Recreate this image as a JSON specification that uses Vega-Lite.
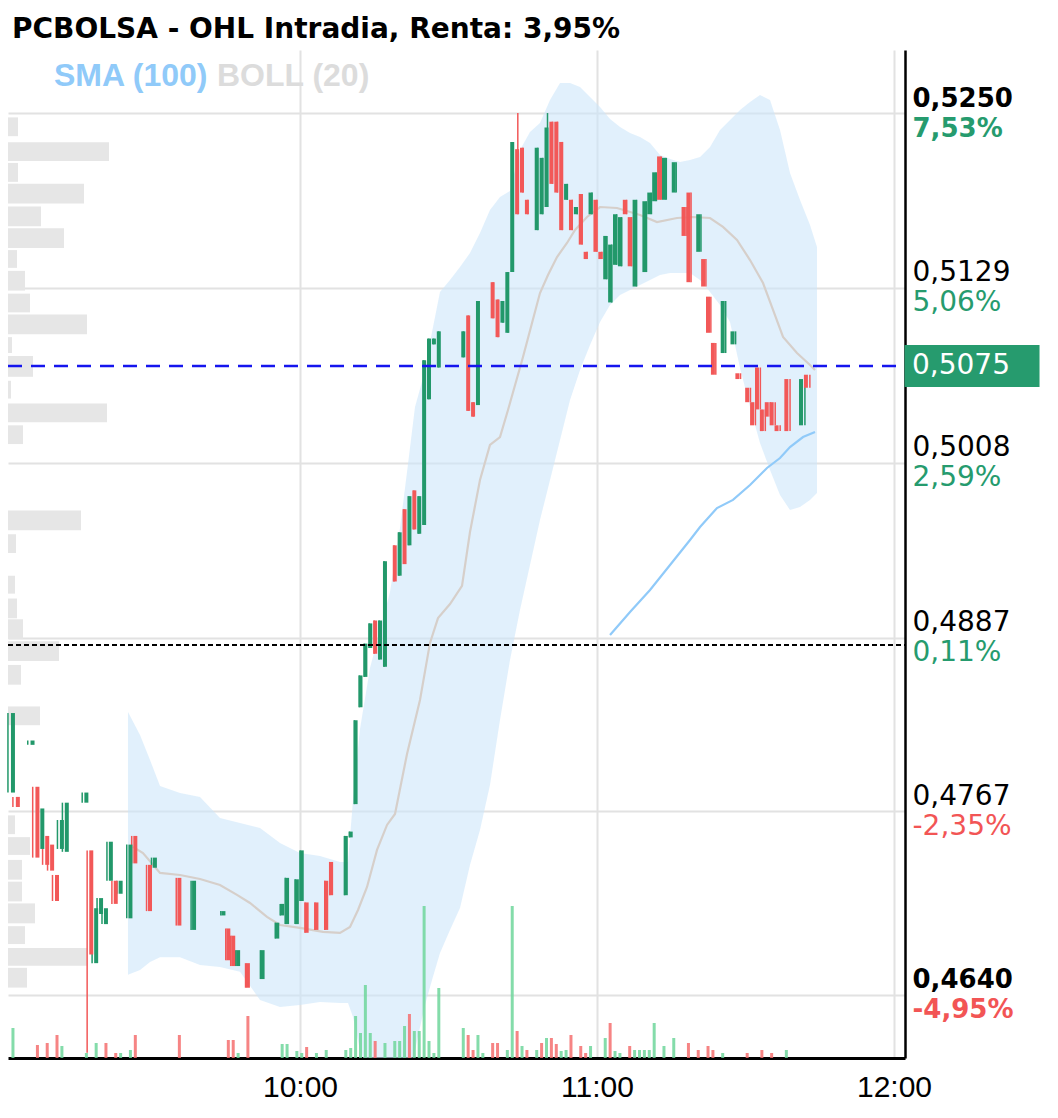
{
"$schema": "https://vega.github.io/schema/vega-lite/v6.json",
"width": 897, "height": 1008,
"autosize": {"type": "none"},
"padding": {"left": 8, "top": 50, "right": 153, "bottom": 60},
"background": "white",
"config": {"view": {"stroke": null}, "locale": {"number": {"decimal": ",", "thousands": ".", "grouping": [3], "currency": ["", " €"]}}},
"title": {"text": "PCBOLSA - OHL Intradia, Renta: 3,95%", "anchor": "start", "frame": "group", "offset": 12, "dx": 4, "dy": 28, "baseline": "alphabetic", "font": "DejaVu Sans", "fontSize": 28, "fontWeight": "bold", "color": "#000000"},
"datasets": {
"candles": [
{"t":1,"o":0.4780,"h":0.4835,"l":0.4780,"c":0.4835},
{"t":2,"o":0.4777,"h":0.4777,"l":0.4770,"c":0.4770},
{"t":5,"o":0.4813,"h":0.4816,"l":0.4813,"c":0.4816},
{"t":6,"o":0.4784,"h":0.4784,"l":0.4735,"c":0.4735},
{"t":7,"o":0.4741,"h":0.4769,"l":0.4741,"c":0.4769},
{"t":8,"o":0.4750,"h":0.4750,"l":0.4730,"c":0.4730},
{"t":9,"o":0.4744,"h":0.4744,"l":0.4726,"c":0.4726},
{"t":10,"o":0.4723,"h":0.4723,"l":0.4705,"c":0.4705},
{"t":11,"o":0.4741,"h":0.4761,"l":0.4741,"c":0.4761},
{"t":12,"o":0.4739,"h":0.4773,"l":0.4739,"c":0.4773},
{"t":16,"o":0.4773,"h":0.4780,"l":0.4773,"c":0.4780},
{"t":17,"o":0.4740,"h":0.4740,"l":0.4600,"c":0.4668},
{"t":18,"o":0.4662,"h":0.4700,"l":0.4662,"c":0.4700},
{"t":19,"o":0.4696,"h":0.4707,"l":0.4696,"c":0.4707},
{"t":20,"o":0.4689,"h":0.4700,"l":0.4689,"c":0.4700},
{"t":21,"o":0.4719,"h":0.4746,"l":0.4719,"c":0.4746},
{"t":22,"o":0.4719,"h":0.4719,"l":0.4703,"c":0.4703},
{"t":23,"o":0.4710,"h":0.4719,"l":0.4710,"c":0.4719},
{"t":25,"o":0.4693,"h":0.4744,"l":0.4693,"c":0.4744},
{"t":26,"o":0.4750,"h":0.4750,"l":0.4731,"c":0.4731},
{"t":29,"o":0.4730,"h":0.4730,"l":0.4698,"c":0.4698},
{"t":30,"o":0.4728,"h":0.4735,"l":0.4728,"c":0.4735},
{"t":35,"o":0.4721,"h":0.4721,"l":0.4688,"c":0.4688},
{"t":38,"o":0.4685,"h":0.4719,"l":0.4685,"c":0.4719},
{"t":44,"o":0.4695,"h":0.4698,"l":0.4695,"c":0.4698},
{"t":45,"o":0.4686,"h":0.4686,"l":0.4664,"c":0.4664},
{"t":46,"o":0.4681,"h":0.4681,"l":0.4660,"c":0.4660},
{"t":47,"o":0.4660,"h":0.4671,"l":0.4660,"c":0.4671},
{"t":49,"o":0.4662,"h":0.4662,"l":0.4645,"c":0.4645},
{"t":52,"o":0.4651,"h":0.4671,"l":0.4651,"c":0.4671},
{"t":55,"o":0.4679,"h":0.4690,"l":0.4679,"c":0.4690},
{"t":56,"o":0.4695,"h":0.4703,"l":0.4695,"c":0.4703},
{"t":57,"o":0.4689,"h":0.4721,"l":0.4689,"c":0.4721},
{"t":59,"o":0.4689,"h":0.4720,"l":0.4689,"c":0.4720},
{"t":60,"o":0.4705,"h":0.4740,"l":0.4705,"c":0.4740},
{"t":61,"o":0.4704,"h":0.4704,"l":0.4683,"c":0.4683},
{"t":63,"o":0.4704,"h":0.4704,"l":0.4685,"c":0.4685},
{"t":65,"o":0.4719,"h":0.4719,"l":0.4685,"c":0.4685},
{"t":66,"o":0.4732,"h":0.4732,"l":0.4709,"c":0.4709},
{"t":69,"o":0.4709,"h":0.4750,"l":0.4709,"c":0.4750},
{"t":70,"o":0.4749,"h":0.4753,"l":0.4749,"c":0.4753},
{"t":71,"o":0.4772,"h":0.4830,"l":0.4772,"c":0.4830},
{"t":72,"o":0.4839,"h":0.4861,"l":0.4839,"c":0.4861},
{"t":73,"o":0.4860,"h":0.4883,"l":0.4860,"c":0.4883},
{"t":74,"o":0.4880,"h":0.4897,"l":0.4880,"c":0.4897},
{"t":75,"o":0.4899,"h":0.4899,"l":0.4876,"c":0.4876},
{"t":76,"o":0.4872,"h":0.4899,"l":0.4872,"c":0.4899},
{"t":77,"o":0.4867,"h":0.4940,"l":0.4867,"c":0.4940},
{"t":79,"o":0.4951,"h":0.4951,"l":0.4926,"c":0.4926},
{"t":80,"o":0.4930,"h":0.4960,"l":0.4930,"c":0.4960},
{"t":81,"o":0.4976,"h":0.4976,"l":0.4938,"c":0.4938},
{"t":82,"o":0.4951,"h":0.4985,"l":0.4951,"c":0.4985},
{"t":83,"o":0.4989,"h":0.4989,"l":0.4962,"c":0.4962},
{"t":84,"o":0.4959,"h":0.4985,"l":0.4959,"c":0.4985},
{"t":85,"o":0.4965,"h":0.5079,"l":0.4965,"c":0.5079},
{"t":86,"o":0.5052,"h":0.5094,"l":0.5052,"c":0.5094},
{"t":87,"o":0.5090,"h":0.5094,"l":0.5090,"c":0.5094},
{"t":88,"o":0.5074,"h":0.5099,"l":0.5074,"c":0.5099},
{"t":93,"o":0.5081,"h":0.5099,"l":0.5081,"c":0.5099},
{"t":94,"o":0.5110,"h":0.5110,"l":0.5044,"c":0.5044},
{"t":95,"o":0.5050,"h":0.5050,"l":0.5040,"c":0.5040},
{"t":96,"o":0.5048,"h":0.5120,"l":0.5048,"c":0.5120},
{"t":99,"o":0.5133,"h":0.5133,"l":0.5108,"c":0.5108},
{"t":100,"o":0.5121,"h":0.5121,"l":0.5095,"c":0.5095},
{"t":101,"o":0.5105,"h":0.5120,"l":0.5105,"c":0.5120},
{"t":102,"o":0.5098,"h":0.5140,"l":0.5098,"c":0.5140},
{"t":103,"o":0.5140,"h":0.5230,"l":0.5140,"c":0.5230},
{"t":104,"o":0.5225,"h":0.5250,"l":0.5180,"c":0.5180},
{"t":105,"o":0.5226,"h":0.5226,"l":0.5195,"c":0.5195},
{"t":106,"o":0.5190,"h":0.5190,"l":0.5180,"c":0.5180},
{"t":108,"o":0.5169,"h":0.5226,"l":0.5169,"c":0.5226},
{"t":109,"o":0.5180,"h":0.5219,"l":0.5180,"c":0.5219},
{"t":110,"o":0.5185,"h":0.5250,"l":0.5185,"c":0.5240},
{"t":111,"o":0.5244,"h":0.5244,"l":0.5201,"c":0.5201},
{"t":112,"o":0.5244,"h":0.5244,"l":0.5195,"c":0.5195},
{"t":113,"o":0.5230,"h":0.5230,"l":0.5169,"c":0.5169},
{"t":114,"o":0.5190,"h":0.5201,"l":0.5190,"c":0.5201},
{"t":115,"o":0.5190,"h":0.5190,"l":0.5169,"c":0.5169},
{"t":116,"o":0.5180,"h":0.5185,"l":0.5180,"c":0.5185},
{"t":117,"o":0.5194,"h":0.5194,"l":0.5159,"c":0.5159},
{"t":118,"o":0.5154,"h":0.5154,"l":0.5149,"c":0.5149},
{"t":119,"o":0.5180,"h":0.5195,"l":0.5180,"c":0.5195},
{"t":120,"o":0.5190,"h":0.5190,"l":0.5154,"c":0.5154},
{"t":121,"o":0.5154,"h":0.5154,"l":0.5149,"c":0.5149},
{"t":122,"o":0.5135,"h":0.5165,"l":0.5135,"c":0.5165},
{"t":123,"o":0.5119,"h":0.5159,"l":0.5119,"c":0.5159},
{"t":124,"o":0.5145,"h":0.5180,"l":0.5145,"c":0.5180},
{"t":125,"o":0.5144,"h":0.5178,"l":0.5144,"c":0.5178},
{"t":126,"o":0.5190,"h":0.5190,"l":0.5180,"c":0.5180},
{"t":127,"o":0.5178,"h":0.5178,"l":0.5144,"c":0.5144},
{"t":128,"o":0.5130,"h":0.5190,"l":0.5130,"c":0.5190},
{"t":130,"o":0.5140,"h":0.5189,"l":0.5140,"c":0.5189},
{"t":131,"o":0.5180,"h":0.5195,"l":0.5180,"c":0.5195},
{"t":132,"o":0.5189,"h":0.5209,"l":0.5189,"c":0.5209},
{"t":133,"o":0.5220,"h":0.5220,"l":0.5190,"c":0.5190},
{"t":134,"o":0.5190,"h":0.5219,"l":0.5190,"c":0.5219},
{"t":136,"o":0.5195,"h":0.5216,"l":0.5195,"c":0.5216},
{"t":138,"o":0.5185,"h":0.5185,"l":0.5165,"c":0.5165},
{"t":139,"o":0.5195,"h":0.5195,"l":0.5133,"c":0.5133},
{"t":141,"o":0.5154,"h":0.5180,"l":0.5154,"c":0.5180},
{"t":142,"o":0.5149,"h":0.5149,"l":0.5130,"c":0.5130},
{"t":143,"o":0.5123,"h":0.5123,"l":0.5098,"c":0.5098},
{"t":144,"o":0.5091,"h":0.5091,"l":0.5069,"c":0.5069},
{"t":146,"o":0.5084,"h":0.5120,"l":0.5084,"c":0.5120},
{"t":148,"o":0.5090,"h":0.5099,"l":0.5090,"c":0.5099},
{"t":149,"o":0.5070,"h":0.5070,"l":0.5066,"c":0.5066},
{"t":151,"o":0.5060,"h":0.5060,"l":0.5050,"c":0.5050},
{"t":152,"o":0.5050,"h":0.5050,"l":0.5034,"c":0.5034},
{"t":153,"o":0.5074,"h":0.5074,"l":0.5045,"c":0.5045},
{"t":154,"o":0.5045,"h":0.5045,"l":0.5030,"c":0.5030},
{"t":155,"o":0.5050,"h":0.5050,"l":0.5040,"c":0.5040},
{"t":156,"o":0.5050,"h":0.5050,"l":0.5034,"c":0.5034},
{"t":157,"o":0.5034,"h":0.5034,"l":0.5030,"c":0.5030},
{"t":159,"o":0.5066,"h":0.5066,"l":0.5030,"c":0.5030},
{"t":162,"o":0.5034,"h":0.5066,"l":0.5034,"c":0.5066},
{"t":163,"o":0.5069,"h":0.5069,"l":0.5060,"c":0.5060}
],
"volume": [
{"t":1,"v":30,"d":"u"},{"t":6,"v":13,"d":"d"},{"t":8,"v":15,"d":"d"},{"t":10,"v":23,"d":"d"},{"t":11,"v":12,"d":"u"},{"t":16,"v":5,"d":"u"},{"t":18,"v":15,"d":"u"},{"t":20,"v":15,"d":"d"},{"t":22,"v":5,"d":"d"},{"t":23,"v":5,"d":"u"},{"t":25,"v":8,"d":"u"},{"t":26,"v":23,"d":"d"},{"t":35,"v":23,"d":"d"},
{"t":45,"v":18,"d":"d"},{"t":46,"v":18,"d":"d"},{"t":47,"v":5,"d":"u"},{"t":49,"v":42,"d":"d"},{"t":56,"v":14,"d":"u"},{"t":57,"v":14,"d":"u"},{"t":59,"v":7,"d":"u"},{"t":60,"v":5,"d":"u"},{"t":61,"v":11,"d":"d"},{"t":63,"v":5,"d":"u"},{"t":65,"v":8,"d":"u"},{"t":69,"v":8,"d":"u"},{"t":70,"v":10,"d":"u"},{"t":71,"v":42,"d":"u"},{"t":72,"v":25,"d":"u"},{"t":73,"v":73,"d":"u"},{"t":74,"v":25,"d":"u"},{"t":75,"v":17,"d":"d"},{"t":77,"v":15,"d":"u"},{"t":79,"v":17,"d":"u"},{"t":80,"v":17,"d":"u"},{"t":81,"v":32,"d":"u"},{"t":82,"v":44,"d":"d"},{"t":83,"v":27,"d":"u"},{"t":84,"v":27,"d":"u"},{"t":85,"v":152,"d":"u"},{"t":86,"v":17,"d":"u"},{"t":87,"v":5,"d":"u"},{"t":88,"v":70,"d":"u"},{"t":93,"v":30,"d":"u"},{"t":94,"v":23,"d":"d"},{"t":95,"v":8,"d":"d"},{"t":96,"v":23,"d":"u"},{"t":97,"v":5,"d":"u"},{"t":99,"v":15,"d":"d"},{"t":100,"v":15,"d":"d"},{"t":102,"v":8,"d":"u"},{"t":103,"v":152,"d":"u"},{"t":104,"v":27,"d":"d"},{"t":105,"v":12,"d":"u"},{"t":106,"v":8,"d":"d"},{"t":108,"v":8,"d":"u"},{"t":109,"v":15,"d":"d"},{"t":110,"v":20,"d":"u"},{"t":111,"v":20,"d":"d"},{"t":112,"v":14,"d":"d"},{"t":113,"v":7,"d":"u"},{"t":114,"v":8,"d":"u"},{"t":115,"v":23,"d":"d"},{"t":117,"v":12,"d":"d"},{"t":118,"v":5,"d":"d"},{"t":119,"v":12,"d":"u"},{"t":122,"v":20,"d":"u"},{"t":123,"v":35,"d":"d"},{"t":124,"v":7,"d":"u"},{"t":125,"v":5,"d":"u"},{"t":127,"v":12,"d":"d"},{"t":128,"v":8,"d":"u"},{"t":129,"v":8,"d":"u"},{"t":130,"v":8,"d":"u"},{"t":131,"v":8,"d":"u"},{"t":132,"v":35,"d":"u"},{"t":134,"v":12,"d":"u"},{"t":136,"v":20,"d":"u"},{"t":139,"v":15,"d":"d"},{"t":141,"v":8,"d":"d"},{"t":143,"v":12,"d":"d"},{"t":144,"v":8,"d":"d"},{"t":146,"v":5,"d":"u"},{"t":151,"v":5,"d":"d"},{"t":154,"v":8,"d":"d"},{"t":156,"v":5,"d":"d"},{"t":159,"v":8,"d":"u"}
],
"profile": [
{"hi":0.5250,"lo":0.52369,"pv":10},{"hi":0.52327,"lo":0.52196,"pv":101},{"hi":0.52182,"lo":0.52050,"pv":10},{"hi":0.52037,"lo":0.51898,"pv":76},{"hi":0.51878,"lo":0.51739,"pv":33},{"hi":0.51725,"lo":0.51587,"pv":56},{"hi":0.51573,"lo":0.51449,"pv":9},{"hi":0.51428,"lo":0.51290,"pv":17},{"hi":0.51269,"lo":0.51138,"pv":22},{"hi":0.51124,"lo":0.50985,"pv":79},{"hi":0.50965,"lo":0.50854,"pv":4},{"hi":0.50833,"lo":0.50688,"pv":25},{"hi":0.50660,"lo":0.50536,"pv":3},{"hi":0.50501,"lo":0.50370,"pv":99},{"hi":0.50349,"lo":0.50218,"pv":15},{"hi":0.49754,"lo":0.49616,"pv":73},{"hi":0.49588,"lo":0.49457,"pv":8},{"hi":0.49298,"lo":0.49173,"pv":7},{"hi":0.49139,"lo":0.49001,"pv":9},{"hi":0.48994,"lo":0.48855,"pv":15},{"hi":0.48841,"lo":0.48703,"pv":51},{"hi":0.48675,"lo":0.48537,"pv":13},{"hi":0.48385,"lo":0.48254,"pv":32},{"hi":0.47624,"lo":0.47493,"pv":7},{"hi":0.47472,"lo":0.47348,"pv":22},{"hi":0.47313,"lo":0.47175,"pv":14},{"hi":0.47161,"lo":0.47023,"pv":14},{"hi":0.47009,"lo":0.46870,"pv":27},{"hi":0.46850,"lo":0.46725,"pv":17},{"hi":0.46698,"lo":0.46573,"pv":79},{"hi":0.46559,"lo":0.46421,"pv":19}
],
"band": [
{"t":25.25,"up":0.48357,"lo":0.46540},{"t":27.68,"up":0.48198,"lo":0.46573},{"t":29.70,"up":0.48025,"lo":0.46628},{"t":31.72,"up":0.47846,"lo":0.46660},{"t":35.76,"up":0.47797,"lo":0.46660},{"t":39.80,"up":0.47770,"lo":0.46608},{"t":43.84,"up":0.47624,"lo":0.46594},{"t":47.88,"up":0.47590,"lo":0.46560},{"t":51.92,"up":0.47555,"lo":0.46366},{"t":55.96,"up":0.47451,"lo":0.46317},{"t":60.00,"up":0.47382,"lo":0.46331},{"t":64.04,"up":0.47361,"lo":0.46352},{"t":68.08,"up":0.47320,"lo":0.46345},{"t":69.70,"up":0.47320,"lo":0.46345},{"t":70.71,"up":0.47749,"lo":0.46248},{"t":72.12,"up":0.48240,"lo":0.46020},{"t":74.14,"up":0.48662,"lo":0.45847},{"t":76.16,"up":0.48924,"lo":0.45812},{"t":78.18,"up":0.49187,"lo":0.45812},{"t":80.20,"up":0.49630,"lo":0.45826},{"t":81.82,"up":0.50072,"lo":0.45868},{"t":83.23,"up":0.50467,"lo":0.46020},{"t":85.25,"up":0.50716,"lo":0.46331},{"t":86.67,"up":0.50985,"lo":0.46504},{"t":88.28,"up":0.51262,"lo":0.46691},{"t":90.30,"up":0.51345,"lo":0.46850},{"t":92.32,"up":0.51435,"lo":0.47002},{"t":94.34,"up":0.51532,"lo":0.47299},{"t":96.36,"up":0.51670,"lo":0.47541},{"t":98.38,"up":0.51829,"lo":0.47853},{"t":100.40,"up":0.51919,"lo":0.48302},{"t":102.42,"up":0.51961,"lo":0.48717},{"t":104.44,"up":0.52244,"lo":0.49063},{"t":106.46,"up":0.52369,"lo":0.49374},{"t":108.48,"up":0.52431,"lo":0.49685},{"t":110.51,"up":0.52590,"lo":0.49962},{"t":112.53,"up":0.52707,"lo":0.50238},{"t":114.55,"up":0.52707,"lo":0.50515},{"t":116.57,"up":0.52680,"lo":0.50723},{"t":118.59,"up":0.52611,"lo":0.50896},{"t":120.61,"up":0.52541,"lo":0.51055},{"t":122.63,"up":0.52459,"lo":0.51172},{"t":124.65,"up":0.52403,"lo":0.51241},{"t":126.67,"up":0.52362,"lo":0.51276},{"t":128.69,"up":0.52334,"lo":0.51310},{"t":130.71,"up":0.52293,"lo":0.51345},{"t":132.73,"up":0.52210,"lo":0.51380},{"t":134.75,"up":0.52182,"lo":0.51393},{"t":136.77,"up":0.52161,"lo":0.51393},{"t":138.79,"up":0.52175,"lo":0.51393},{"t":140.81,"up":0.52196,"lo":0.51345},{"t":142.83,"up":0.52265,"lo":0.51262},{"t":144.85,"up":0.52382,"lo":0.51172},{"t":146.87,"up":0.52452,"lo":0.51055},{"t":148.89,"up":0.52521,"lo":0.50736},{"t":150.91,"up":0.52576,"lo":0.50467},{"t":152.93,"up":0.52624,"lo":0.50218},{"t":154.95,"up":0.52590,"lo":0.50031},{"t":156.97,"up":0.52382,"lo":0.49858},{"t":158.99,"up":0.52085,"lo":0.49754},{"t":161.01,"up":0.51898,"lo":0.49775},{"t":163.03,"up":0.51725,"lo":0.49824},{"t":164.44,"up":0.51573,"lo":0.49872}
],
"lines": [
{"s":"BOLL (20)","t":26.26,"p":0.47424},{"s":"BOLL (20)","t":28.28,"p":0.47382},{"s":"BOLL (20)","t":31.72,"p":0.47244},{"s":"BOLL (20)","t":35.76,"p":0.47230},{"s":"BOLL (20)","t":39.80,"p":0.47202},{"s":"BOLL (20)","t":43.84,"p":0.47161},{"s":"BOLL (20)","t":47.27,"p":0.47092},{"s":"BOLL (20)","t":49.90,"p":0.47036},{"s":"BOLL (20)","t":53.33,"p":0.46940},{"s":"BOLL (20)","t":55.96,"p":0.46884},{"s":"BOLL (20)","t":60.00,"p":0.46864},{"s":"BOLL (20)","t":64.65,"p":0.46836},{"s":"BOLL (20)","t":68.08,"p":0.46829},{"s":"BOLL (20)","t":70.10,"p":0.46870},{"s":"BOLL (20)","t":71.72,"p":0.46988},{"s":"BOLL (20)","t":73.54,"p":0.47147},{"s":"BOLL (20)","t":75.56,"p":0.47403},{"s":"BOLL (20)","t":77.58,"p":0.47576},{"s":"BOLL (20)","t":79.19,"p":0.47652},{"s":"BOLL (20)","t":81.62,"p":0.48067},{"s":"BOLL (20)","t":84.24,"p":0.48440},{"s":"BOLL (20)","t":86.26,"p":0.48835},{"s":"BOLL (20)","t":87.88,"p":0.49007},{"s":"BOLL (20)","t":90.30,"p":0.49104},{"s":"BOLL (20)","t":92.73,"p":0.49229},{"s":"BOLL (20)","t":94.34,"p":0.49602},{"s":"BOLL (20)","t":96.36,"p":0.49962},{"s":"BOLL (20)","t":98.38,"p":0.50204},{"s":"BOLL (20)","t":100.40,"p":0.50259},{"s":"BOLL (20)","t":102.02,"p":0.50446},{"s":"BOLL (20)","t":105.05,"p":0.50813},{"s":"BOLL (20)","t":106.87,"p":0.51048},{"s":"BOLL (20)","t":108.48,"p":0.51255},{"s":"BOLL (20)","t":110.10,"p":0.51380},{"s":"BOLL (20)","t":111.92,"p":0.51504},{"s":"BOLL (20)","t":113.94,"p":0.51601},{"s":"BOLL (20)","t":115.56,"p":0.51691},{"s":"BOLL (20)","t":117.98,"p":0.51781},{"s":"BOLL (20)","t":120.61,"p":0.51850},{"s":"BOLL (20)","t":124.04,"p":0.51843},{"s":"BOLL (20)","t":128.69,"p":0.51795},{"s":"BOLL (20)","t":132.12,"p":0.51746},{"s":"BOLL (20)","t":136.16,"p":0.51774},{"s":"BOLL (20)","t":139.39,"p":0.51781},{"s":"BOLL (20)","t":142.83,"p":0.51774},{"s":"BOLL (20)","t":145.45,"p":0.51712},{"s":"BOLL (20)","t":148.28,"p":0.51622},{"s":"BOLL (20)","t":150.91,"p":0.51483},{"s":"BOLL (20)","t":153.54,"p":0.51324},{"s":"BOLL (20)","t":155.56,"p":0.51138},{"s":"BOLL (20)","t":157.58,"p":0.50951},{"s":"BOLL (20)","t":160.40,"p":0.50840},{"s":"BOLL (20)","t":163.03,"p":0.50757},{"s":"BOLL (20)","t":164.04,"p":0.50723},
{"s":"SMA (100)","t":122.63,"p":0.48890},{"s":"SMA (100)","t":126.67,"p":0.49049},{"s":"SMA (100)","t":130.71,"p":0.49201},{"s":"SMA (100)","t":134.75,"p":0.49374},{"s":"SMA (100)","t":138.79,"p":0.49547},{"s":"SMA (100)","t":140.81,"p":0.49637},{"s":"SMA (100)","t":144.24,"p":0.49768},{"s":"SMA (100)","t":147.47,"p":0.49824},{"s":"SMA (100)","t":150.91,"p":0.49927},{"s":"SMA (100)","t":154.34,"p":0.50045},{"s":"SMA (100)","t":156.97,"p":0.50114},{"s":"SMA (100)","t":158.99,"p":0.50190},{"s":"SMA (100)","t":161.62,"p":0.50259},{"s":"SMA (100)","t":164.04,"p":0.50294}
],
"levels": [{"k":"last","p":0.5075},{"k":"prev","p":0.4882}]
},
"resolve": {"scale": {"x": "independent", "y": "independent"}},
"layer": [
{"data": {"name": "band"},
 "mark": {"type": "area", "color": "#cde6fa", "opacity": 0.6, "clip": true},
 "encoding": {
  "x": {"field": "t", "type": "quantitative", "scale": {"domain": [1.01, 182.22], "nice": false, "zero": false},
    "axis": {"orient": "bottom", "values": [60, 120, 180], "labelExpr": "datum.value == 60 ? '10:00' : datum.value == 120 ? '11:00' : '12:00'", "grid": true, "gridColor": "#e2e2e2", "gridWidth": 2, "ticks": false, "tickSize": 0, "domain": true, "domainColor": "#000000", "domainWidth": 3, "labelFont": "Liberation Sans", "labelFontSize": 30, "labelColor": "#000000", "labelPadding": 14, "title": null, "labelFlush": false, "labelOverlap": false}},
  "y": {"field": "up", "type": "quantitative", "scale": {"domain": [0.45964, 0.52936], "nice": false, "zero": false}, "axis": null},
  "y2": {"field": "lo"}
 }},
{"data": {"name": "profile"},
 "mark": {"type": "bar", "orient": "horizontal", "color": "#e6e6e6"},
 "encoding": {
  "x": {"field": "pv", "type": "quantitative", "scale": {"domain": [0, 897], "nice": false, "zero": true}, "axis": null},
  "y": {"field": "lo", "type": "quantitative", "scale": {"domain": [0.45964, 0.52936], "nice": false, "zero": false}, "axis": null},
  "y2": {"field": "hi"}
 }},
{"data": {"name": "volume"},
 "mark": {"type": "bar", "width": 3, "opacity": 0.85},
 "encoding": {
  "x": {"field": "t", "type": "quantitative", "scale": {"domain": [1.01, 182.22], "nice": false, "zero": false}, "axis": null},
  "y": {"field": "v", "type": "quantitative", "scale": {"domain": [0, 1008], "nice": false}, "axis": null},
  "color": {"condition": {"test": "datum.d == 'u'", "value": "#6fd69b"}, "value": "#f46f6f"}
 }},
{"data": {"name": "lines"},
 "transform": [{"filter": "datum.s == 'BOLL (20)'"}],
 "mark": {"type": "line", "strokeWidth": 2.2, "color": "#d6cfca"},
 "encoding": {
  "x": {"field": "t", "type": "quantitative", "scale": {"domain": [1.01, 182.22], "nice": false, "zero": false}, "axis": null},
  "y": {"field": "p", "type": "quantitative", "scale": {"domain": [0.45964, 0.52936], "nice": false, "zero": false}, "axis": null},
  "opacity": {"field": "s", "type": "nominal", "scale": {"domain": ["BOLL (20)"], "range": [1]},
    "legend": {"title": null, "orient": "none", "legendX": 177, "legendY": 10, "direction": "horizontal", "labelFont": "Liberation Sans", "labelFontSize": 32, "labelFontWeight": "bold", "labelColor": "#dcdcdc", "symbolSize": 0, "symbolOpacity": 0, "symbolStrokeWidth": 0, "labelOffset": 0, "padding": 0, "labelLimit": 400}}
 }},
{"data": {"name": "lines"},
 "transform": [{"filter": "datum.s == 'SMA (100)'"}],
 "mark": {"type": "line", "strokeWidth": 2.2},
 "encoding": {
  "x": {"field": "t", "type": "quantitative", "scale": {"domain": [1.01, 182.22], "nice": false, "zero": false}, "axis": null},
  "y": {"field": "p", "type": "quantitative", "scale": {"domain": [0.45964, 0.52936], "nice": false, "zero": false}, "axis": null},
  "color": {"field": "s", "type": "nominal", "scale": {"domain": ["SMA (100)"], "range": ["#90caf9"]},
    "legend": {"title": null, "orient": "none", "legendX": 14, "legendY": 10, "direction": "horizontal", "labelFont": "Liberation Sans", "labelFontSize": 32, "labelFontWeight": "bold", "labelColor": "#90caf9", "symbolSize": 0, "symbolOpacity": 0, "symbolStrokeWidth": 0, "labelOffset": 0, "padding": 0, "labelLimit": 400}}
 }},
{"data": {"name": "candles"},
 "mark": {"type": "rule", "strokeWidth": 1.5},
 "encoding": {
  "x": {"field": "t", "type": "quantitative", "scale": {"domain": [1.01, 182.22], "nice": false, "zero": false}, "axis": null},
  "y": {"field": "l", "type": "quantitative", "scale": {"domain": [0.45964, 0.52936], "nice": false, "zero": false},
    "axis": {"orient": "right", "values": [0.464, 0.4767, 0.4887, 0.5008, 0.5129, 0.525], "labelExpr": "datum.value > 0.52 ? '7,53%' : datum.value > 0.51 ? '5,06%' : datum.value > 0.50 ? '2,59%' : datum.value > 0.485 ? '0,11%' : datum.value > 0.47 ? '-2,35%' : '-4,95%'", "labelFont": "DejaVu Sans", "labelFontSize": {"condition": {"test": "datum.value > 0.52 || datum.value < 0.47", "value": 26}, "value": 28}, "labelColor": {"condition": {"test": "datum.value < 0.485", "value": "#f25555"}, "value": "#269b6e"}, "labelFontWeight": {"condition": {"test": "datum.value > 0.52 || datum.value < 0.47", "value": "bold"}, "value": "normal"}, "labelOffset": 15, "labelBaseline": "middle", "labelPadding": 7, "ticks": false, "tickSize": 0, "domain": false, "grid": false, "title": null, "labelOverlap": false, "labelFlush": false, "labelBound": false}},
  "y2": {"field": "h"},
  "color": {"condition": {"test": "datum.c >= datum.o", "value": "#22986a"}, "value": "#f25858"}
 }},
{"data": {"name": "candles"},
 "mark": {"type": "bar", "width": 4},
 "encoding": {
  "x": {"field": "t", "type": "quantitative", "scale": {"domain": [1.01, 182.22], "nice": false, "zero": false}, "axis": null},
  "y": {"field": "o", "type": "quantitative", "scale": {"domain": [0.45964, 0.52936], "nice": false, "zero": false},
    "axis": {"orient": "right", "values": [0.464, 0.4767, 0.4887, 0.5008, 0.5129, 0.525], "format": ".4f", "labelFont": "DejaVu Sans", "labelFontSize": {"condition": {"test": "datum.value > 0.52 || datum.value < 0.47", "value": 26}, "value": 28}, "labelColor": "#000000", "labelFontWeight": {"condition": {"test": "datum.value > 0.52 || datum.value < 0.47", "value": "bold"}, "value": "normal"}, "labelOffset": -15, "labelBaseline": "middle", "labelPadding": 7, "ticks": false, "tickSize": 0, "domain": true, "domainColor": "#000000", "domainWidth": 2.5, "grid": true, "gridColor": "#e2e2e2", "gridWidth": 2, "title": null, "labelOverlap": false, "labelFlush": false, "labelBound": false}},
  "y2": {"field": "c"},
  "color": {"condition": {"test": "datum.c >= datum.o", "value": "#22986a"}, "value": "#f25858"}
 }},
{"data": {"name": "levels"},
 "transform": [{"filter": "datum.k == 'last'"}],
 "mark": {"type": "rule", "color": "#1515ee", "strokeWidth": 2.5, "strokeDash": [14, 9]},
 "encoding": {
  "x": {"datum": 1.01, "type": "quantitative", "scale": {"domain": [1.01, 182.22], "nice": false, "zero": false}, "axis": null},
  "x2": {"datum": 182.22},
  "y": {"field": "p", "type": "quantitative", "scale": {"domain": [0.45964, 0.52936], "nice": false, "zero": false}, "axis": null}}},
{"data": {"name": "levels"},
 "transform": [{"filter": "datum.k == 'prev'"}],
 "mark": {"type": "rule", "color": "#000000", "strokeWidth": 2, "strokeDash": [5, 3]},
 "encoding": {
  "x": {"datum": 1.01, "type": "quantitative", "scale": {"domain": [1.01, 182.22], "nice": false, "zero": false}, "axis": null},
  "x2": {"datum": 182.22},
  "y": {"field": "p", "type": "quantitative", "scale": {"domain": [0.45964, 0.52936], "nice": false, "zero": false}, "axis": null}}},
{"data": {"name": "levels"},
 "transform": [{"filter": "datum.k == 'last'"}],
 "mark": {"type": "tick", "orient": "horizontal", "color": "#269b6e", "size": 135, "thickness": 42, "clip": false, "opacity": 1},
 "encoding": {
  "x": {"datum": 195.76, "type": "quantitative", "scale": {"domain": [1.01, 182.22], "nice": false, "zero": false}, "axis": null},
  "y": {"field": "p", "type": "quantitative", "scale": {"domain": [0.45964, 0.52936], "nice": false, "zero": false}, "axis": null}}},
{"data": {"name": "levels"},
 "transform": [{"filter": "datum.k == 'last'"}],
 "mark": {"type": "text", "align": "left", "baseline": "middle", "font": "DejaVu Sans", "fontSize": 28, "color": "#ffffff", "clip": false},
 "encoding": {
  "x": {"datum": 183.64, "type": "quantitative", "scale": {"domain": [1.01, 182.22], "nice": false, "zero": false}, "axis": null},
  "y": {"field": "p", "type": "quantitative", "scale": {"domain": [0.45964, 0.52936], "nice": false, "zero": false}, "axis": null},
  "text": {"field": "p", "type": "quantitative", "format": ".4f"}}}
]
}
